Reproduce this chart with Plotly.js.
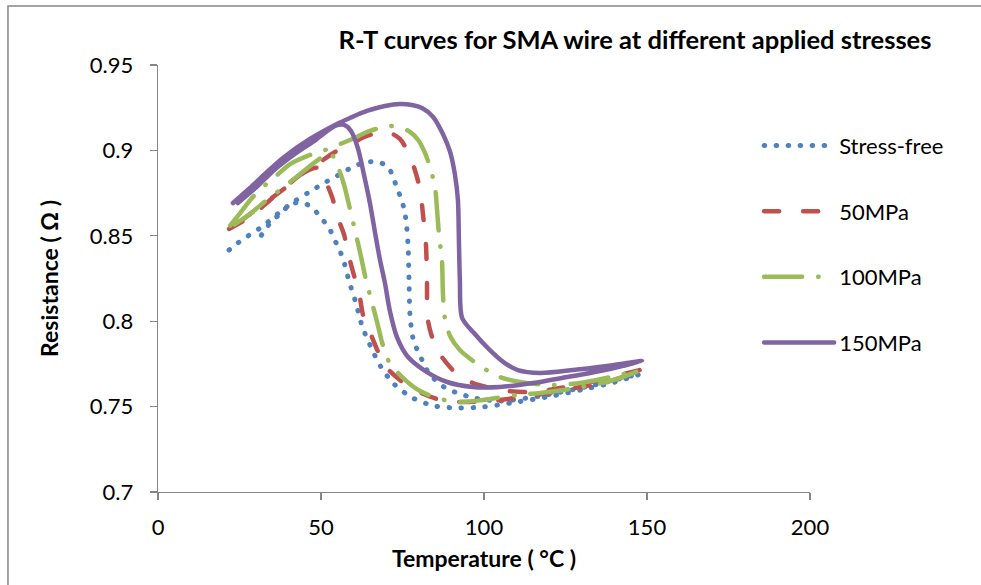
<!DOCTYPE html>
<html>
<head>
<meta charset="utf-8">
<script src="https://cdn.plot.ly/plotly-3.0.1.min.js"></script>
<style>
  html, body { margin: 0; padding: 0; background: #fff; }
  #chart { width: 981px; height: 585px; }
  .scatterlayer path.js-line, .legend path.js-line { stroke-linecap: round; stroke-linejoin: round; }
</style>
</head>
<body>
<div id="chart"></div>
<script>
// Series names
const seriesNames = ["Stress-free", "50MPa", "100MPa", "150MPa"];

// Stress-free: heating branch (outer) then cooling branch (inner)
const tempStressFree = [21.8, 24.5, 27.6, 32.2, 37.4, 42.0, 47.9, 50.9, 54.3, 57.4, 60.4, 64.1, 67.5, 70.6, 72.1, 73.3, 74.5, 75.5, 76.1, 76.7, 77.0, 77.3, 78.2, 79.4, 81.0, 82.5, 84.7, 87.7, 91.1, 97.2, 104.9, 117.2, 132.5, 147.9,
  140.2, 131.0, 120.9, 110.1, 99.7, 92.3, 85.0, 78.2, 72.4, 68.4, 65.3, 62.6, 60.7, 58.6, 56.7, 55.2, 53.7, 52.1, 49.7, 47.5, 44.5, 42.0, 39.9, 37.4, 35.3, 33.1, 31.3, 29.8];
const resStressFree = [0.8417, 0.8458, 0.8499, 0.8557, 0.8639, 0.8704, 0.8774, 0.8809, 0.8844, 0.8879, 0.8909, 0.8932, 0.8932, 0.8903, 0.8844, 0.8780, 0.8721, 0.8657, 0.8587, 0.8446, 0.8241, 0.8036, 0.7902, 0.7837, 0.7773, 0.7714, 0.7662, 0.7615, 0.7585, 0.7550, 0.7533, 0.7562, 0.7621, 0.7691,
  0.7644, 0.7603, 0.7562, 0.7527, 0.7498, 0.7492, 0.7503, 0.7550, 0.7632, 0.7732, 0.7849, 0.7972, 0.8107, 0.8235, 0.8370, 0.8434, 0.8499, 0.8557, 0.8610, 0.8663, 0.8692, 0.8692, 0.8674, 0.8622, 0.8598, 0.8540, 0.8493, 0.8452];

// 50 MPa
const temp50 = [21.8, 29.1, 34.4, 38.0, 43.6, 48.8, 54.3, 58.9, 62.6, 67.2, 71.2, 74.2, 76.7, 78.8, 80.4, 81.3, 82.2, 82.5, 82.8, 84.4, 87.1, 92.0, 96.6, 104.9, 114.1, 123.3, 135.6, 149.4,
  138.7, 126.4, 114.1, 101.8, 92.0, 86.5, 78.8, 74.2, 70.2, 67.8, 65.0, 62.9, 61.7, 60.1, 58.6, 57.1, 55.2, 53.4, 51.2, 49.1, 45.1, 39.0, 31.9, 25.8, 22.7];
const res50 = [0.8540, 0.8622, 0.8710, 0.8768, 0.8856, 0.8920, 0.8991, 0.9032, 0.9073, 0.9102, 0.9102, 0.9067, 0.8991, 0.8885, 0.8768, 0.8622, 0.8446, 0.8241, 0.8007, 0.7890, 0.7790, 0.7685, 0.7638, 0.7597, 0.7585, 0.7609, 0.7656, 0.7720,
  0.7650, 0.7603, 0.7562, 0.7533, 0.7527, 0.7539, 0.7597, 0.7656, 0.7726, 0.7808, 0.7937, 0.8036, 0.8165, 0.8270, 0.8376, 0.8505, 0.8604, 0.8727, 0.8827, 0.8897, 0.8874, 0.8780, 0.8680, 0.8593, 0.8552];

// 100 MPa
const temp100 = [22.1, 25.2, 28.8, 31.9, 36.2, 40.5, 45.7, 51.2, 58.9, 65.0, 70.6, 74.2, 77.3, 79.8, 81.9, 83.7, 85.0, 85.6, 86.2, 87.1, 87.4, 88.0, 89.6, 92.6, 98.8, 104.9, 111.0, 120.2, 129.4, 138.7, 147.2,
  138.7, 126.4, 117.2, 110.1, 99.7, 92.6, 86.5, 80.4, 75.2, 70.9, 68.7, 67.2, 65.6, 63.8, 62.3, 60.4, 58.6, 57.1, 55.2, 52.8, 49.1, 43.6, 37.4, 33.4, 28.2, 22.7];
const res100 = [0.8560, 0.8633, 0.8721, 0.8780, 0.8850, 0.8920, 0.8967, 0.9002, 0.9061, 0.9114, 0.9143, 0.9137, 0.9108, 0.9061, 0.8985, 0.8885, 0.8780, 0.8651, 0.8505, 0.8358, 0.8165, 0.8019, 0.7913, 0.7831, 0.7738, 0.7673, 0.7644, 0.7626, 0.7638, 0.7673, 0.7708,
  0.7650, 0.7603, 0.7580, 0.7568, 0.7539, 0.7527, 0.7545, 0.7591, 0.7667, 0.7761, 0.7878, 0.7995, 0.8112, 0.8241, 0.8376, 0.8534, 0.8680, 0.8797, 0.8903, 0.8985, 0.8944, 0.8862, 0.8768, 0.8710, 0.8628, 0.8557];

// 150 MPa
const temp150 = [23.0, 28.2, 32.8, 38.3, 46.6, 54.9, 58.9, 64.1, 69.6, 74.2, 77.9, 81.0, 84.4, 87.4, 89.6, 91.1, 92.0, 92.3, 92.6, 93.3, 97.2, 101.8, 106.4, 110.4, 117.2, 127.3, 137.7, 148.5,
  135.6, 125.5, 115.0, 104.9, 96.6, 88.7, 82.5, 76.7, 73.3, 71.2, 69.6, 68.1, 66.6, 65.0, 63.2, 61.3, 59.2, 57.1, 54.3, 48.2, 42.0, 35.9, 29.8, 24.5];
const res150 = [0.8692, 0.8780, 0.8862, 0.8956, 0.9067, 0.9155, 0.9190, 0.9231, 0.9260, 0.9272, 0.9266, 0.9248, 0.9196, 0.9096, 0.8991, 0.8856, 0.8710, 0.8475, 0.8241, 0.8019, 0.7925, 0.7831, 0.7755, 0.7714, 0.7697, 0.7714, 0.7738, 0.7767,
  0.7708, 0.7673, 0.7638, 0.7615, 0.7615, 0.7644, 0.7702, 0.7790, 0.7907, 0.8054, 0.8224, 0.8358, 0.8516, 0.8692, 0.8856, 0.9014, 0.9114, 0.9149, 0.9143, 0.9059, 0.8980, 0.8890, 0.8778, 0.8692];

// Axis ticks
const xTicks = [0, 50, 100, 150, 200];
const yTicks = [0.7, 0.75, 0.8, 0.85, 0.9, 0.95];

const colors = ["#4F81BD", "#C0504D", "#9BBB59", "#8064A2"];
const dashes = ["0.5px,11.5px", "15px,24px", "38px,16px,0.5px,16px", "solid"];
const widths = [5, 4.5, 4.5, 4.5];
const xs = [tempStressFree, temp50, temp100, temp150];
const ys = [resStressFree, res50, res100, res150];

const FONT = "Lato, 'Open Sans', sans-serif";

const traces = seriesNames.map((name, i) => ({
  type: "scatter",
  mode: "lines",
  name: name,
  legendgroup: "g" + i,
  x: xs[i],
  y: ys[i],
  line: { color: colors[i], width: widths[i], dash: dashes[i], shape: "spline", smoothing: 0.8 },
  hoverinfo: "x+y+name"
}));

const layout = {
  width: 981,
  height: 585,
  paper_bgcolor: "#ffffff",
  plot_bgcolor: "#ffffff",
  margin: { l: 158, r: 171, t: 65, b: 93 },
  font: { family: FONT, color: "#000000", size: 22 },
  title: {
    text: "<b>R-T curves for SMA wire at different applied stresses</b>",
    font: { family: FONT, size: 25.5, color: "#000000" },
    x: 0.7316, xref: "paper", xanchor: "center",
    y: 0.9316, yref: "container", yanchor: "middle"
  },
  xaxis: {
    range: [0, 200],
    tickvals: xTicks,
    ticktext: xTicks.map(String),
    showgrid: false, zeroline: false,
    showline: true, linecolor: "#868686", linewidth: 1.3,
    ticks: "outside", ticklen: 7, tickcolor: "#868686", tickwidth: 1.3,
    ticklabelstandoff: 8,
    tickfont: { family: FONT, size: 22, color: "#000" },
    title: { text: "<b>Temperature ( °C )</b>", font: { family: FONT, size: 23, color: "#000" }, standoff: 12 },
    automargin: false
  },
  yaxis: {
    range: [0.7, 0.95],
    tickvals: yTicks,
    ticktext: yTicks.map(String),
    showgrid: false, zeroline: false,
    showline: true, linecolor: "#868686", linewidth: 1.3,
    ticks: "outside", ticklen: 7, tickcolor: "#868686", tickwidth: 1.3,
    ticklabelstandoff: 12,
    tickfont: { family: FONT, size: 22, color: "#000" },
    title: { text: "<b>Resistance ( Ω )</b>", font: { family: FONT, size: 23, color: "#000" }, standoff: 24 },
    automargin: false
  },
  showlegend: true,
  legend: {
    x: 0.922, xanchor: "left", xref: "paper",
    y: 0.86, yanchor: "top", yref: "paper",
    font: { family: FONT, size: 22, color: "#000" },
    bgcolor: "rgba(0,0,0,0)",
    tracegroupgap: 34,
    itemwidth: 70,
    traceorder: "grouped"
  },
  shapes: [{
    type: "rect", xref: "paper", yref: "paper",
    x0: -0.2301, x1: 1.3, y0: -0.3, y1: 1.1382,
    line: { color: "#868686", width: 1.5 }, fillcolor: "rgba(0,0,0,0)", layer: "below"
  }]
};

Plotly.newPlot("chart", traces, layout, { displayModeBar: false, staticPlot: true });
</script>
</body>
</html>
